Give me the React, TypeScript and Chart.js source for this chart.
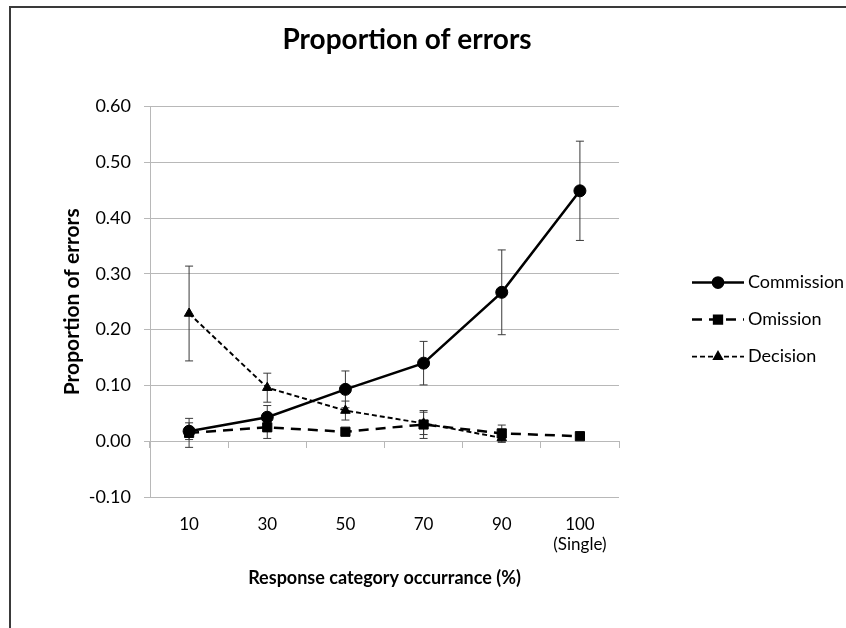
import React, { useEffect, useRef } from 'react';
import { Chart, registerables } from 'chart.js';
import { drawPoint } from 'chart.js/helpers';

Chart.register(...registerables);

const chartTitle = 'Proportion of errors';
const xAxisTitle = 'Response category occurrance (%)';
const yAxisTitle = 'Proportion of errors';

const categories: (string | string[])[] = ['10', '30', '50', '70', '90', ['100', '(Single)']];

const seriesNames = ['Commission', 'Omission', 'Decision'];

const commission = [0.018, 0.043, 0.093, 0.14, 0.267, 0.449];
const commissionErr = [0.015, 0.021, 0.033, 0.039, 0.076, 0.089];

const omission = [0.015, 0.025, 0.017, 0.03, 0.014, 0.009];
const omissionErr = [0.026, 0.02, 0.006, 0.025, 0.015, 0.002];

const decision = [0.229, 0.096, 0.055, 0.032, 0.006, null];
const decisionErr = [0.085, 0.026, 0.017, 0.02, 0.008, null];

const yMin = -0.1;
const yMax = 0.6;
const yStep = 0.1;

const FONT = 'Lato, "Open Sans", sans-serif';
const GRID = '#b8b8b8';

const errorBarPlugin = {
  id: 'errorBars',
  beforeDatasetsDraw(chart: any) {
    const { ctx } = chart;
    const xs = chart.scales.x;
    const ys = chart.scales.y;
    const errs: any[] = [commissionErr, omissionErr, decisionErr];
    ctx.save();
    ctx.strokeStyle = '#3a3a3a';
    ctx.lineWidth = 1;
    chart.data.datasets.forEach((ds: any, di: number) => {
      ds.data.forEach((v: any, i: number) => {
        const e = errs[di][i];
        if (v == null || e == null) return;
        const x = xs.getPixelForValue(i);
        const yt = ys.getPixelForValue(v + e);
        const yb = ys.getPixelForValue(v - e);
        ctx.beginPath();
        ctx.moveTo(x, yt);
        ctx.lineTo(x, yb);
        ctx.moveTo(x - 4, yt);
        ctx.lineTo(x + 4, yt);
        ctx.moveTo(x - 4, yb);
        ctx.lineTo(x + 4, yb);
        ctx.stroke();
      });
    });
    ctx.restore();
  },
};

const legendPlugin = {
  id: 'sideLegend',
  afterDraw(chart: any) {
    const { ctx, chartArea } = chart;
    ctx.save();
    chart.data.datasets.forEach((ds: any, i: number) => {
      const y = chartArea.top + 176 + i * 37;
      const x0 = chartArea.right + 73;
      const x1 = x0 + 52;
      const xm = (x0 + x1) / 2;
      ctx.strokeStyle = '#000';
      ctx.fillStyle = '#000';
      ctx.lineWidth = ds.borderWidth;
      ctx.setLineDash(ds.borderDash || []);
      ctx.beginPath();
      ctx.moveTo(x0, y);
      ctx.lineTo(x1, y);
      ctx.stroke();
      ctx.setLineDash([]);
      drawPoint(ctx, { pointStyle: ds.pointStyle, radius: ds.pointRadius * 0.85, rotation: 0, borderWidth: 1 }, xm, y);
      ctx.font = '18px ' + FONT;
      ctx.textAlign = 'left';
      ctx.textBaseline = 'middle';
      ctx.fillText(ds.label, x1 + 4, y);
    });
    ctx.restore();
  },
};

export default function App() {
  const ref = useRef<HTMLCanvasElement | null>(null);

  useEffect(() => {
    if (!ref.current) return;
    Chart.defaults.font.family = FONT;
    Chart.defaults.color = '#000';
    const chart = new Chart(ref.current, {
      type: 'line',
      data: {
        labels: categories as any,
        datasets: [
          {
            label: seriesNames[0],
            data: commission,
            borderColor: '#000',
            backgroundColor: '#000',
            borderWidth: 2.5,
            pointStyle: 'circle',
            pointRadius: 6,
            pointBorderWidth: 1,
            tension: 0,
          },
          {
            label: seriesNames[1],
            data: omission,
            borderColor: '#000',
            backgroundColor: '#000',
            borderWidth: 2.5,
            borderDash: [10, 7],
            pointStyle: 'rect',
            pointRadius: 6.5,
            pointBorderWidth: 1,
            tension: 0,
          },
          {
            label: seriesNames[2],
            data: decision,
            borderColor: '#000',
            backgroundColor: '#000',
            borderWidth: 1.9,
            borderDash: [5, 3],
            pointStyle: 'triangle',
            pointRadius: 5.5,
            pointBorderWidth: 1,
            tension: 0,
          },
        ],
      },
      options: {
        responsive: false,
        animation: false,
        layout: { padding: { left: 0, right: 32, top: 0, bottom: 0 } },
        plugins: {
          legend: { display: false },
          tooltip: { enabled: false },
          title: {
            display: true,
            text: chartTitle,
            color: '#000',
            font: { size: 28, weight: 'bold', family: FONT },
            padding: { top: 23, bottom: 50 },
          },
        },
        scales: {
          x: {
            type: 'category',
            offset: true,
            grid: { display: false, drawTicks: false },
            border: { display: false },
            ticks: { padding: 17, font: { size: 17 }, color: '#000', maxRotation: 0, autoSkip: false },
            title: {
              display: true,
              text: xAxisTitle,
              color: '#000',
              font: { size: 18, weight: 'bold' },
              padding: { top: 0, bottom: 39 },
            },
            afterFit: (s: any) => { s.height = 131; },
          },
          x2: {
            type: 'category',
            axis: 'x',
            labels: categories as any,
            position: { y: 0 } as any,
            offset: true,
            grid: { offset: true, drawOnChartArea: false, drawTicks: true, tickLength: 6, color: GRID },
            border: { display: true, color: GRID },
            ticks: { display: false },
          },
          y: {
            type: 'linear',
            position: 'left',
            min: yMin,
            max: yMax,
            ticks: {
              stepSize: yStep,
              padding: 13,
              font: { size: 18 },
              color: '#000',
              callback: (v: any) => {
                const n = Math.abs(Number(v)) < 1e-9 ? 0 : Number(v);
                return n.toFixed(2);
              },
            },
            grid: { color: GRID, tickLength: 6 },
            border: { color: GRID },
            title: {
              display: true,
              text: yAxisTitle,
              color: '#000',
              font: { size: 21, weight: 'bold' },
              padding: { top: 60, bottom: 0 },
            },
            afterFit: (s: any) => { s.width = 150; },
          },
          yR: {
            type: 'linear',
            position: 'right',
            display: true,
            grid: { display: false, drawTicks: false },
            border: { display: false },
            ticks: { display: false },
            afterFit: (s: any) => { s.width = 195; },
          },
        },
      },
      plugins: [errorBarPlugin, legendPlugin],
    });
    return () => chart.destroy();
  }, []);

  return (
    <div style={{ position: 'absolute', left: 0, top: 0, width: 846, height: 628, overflow: 'hidden', background: '#fff' }}>
      <canvas ref={ref} width={846} height={628} style={{ position: 'absolute', left: 0, top: 0 }} />
      <div
        style={{
          position: 'absolute',
          left: 9,
          top: 6,
          width: 900,
          height: 700,
          borderLeft: '2px solid #3a3a3a',
          borderTop: '2px solid #3a3a3a',
          pointerEvents: 'none',
        }}
      />
    </div>
  );
}
